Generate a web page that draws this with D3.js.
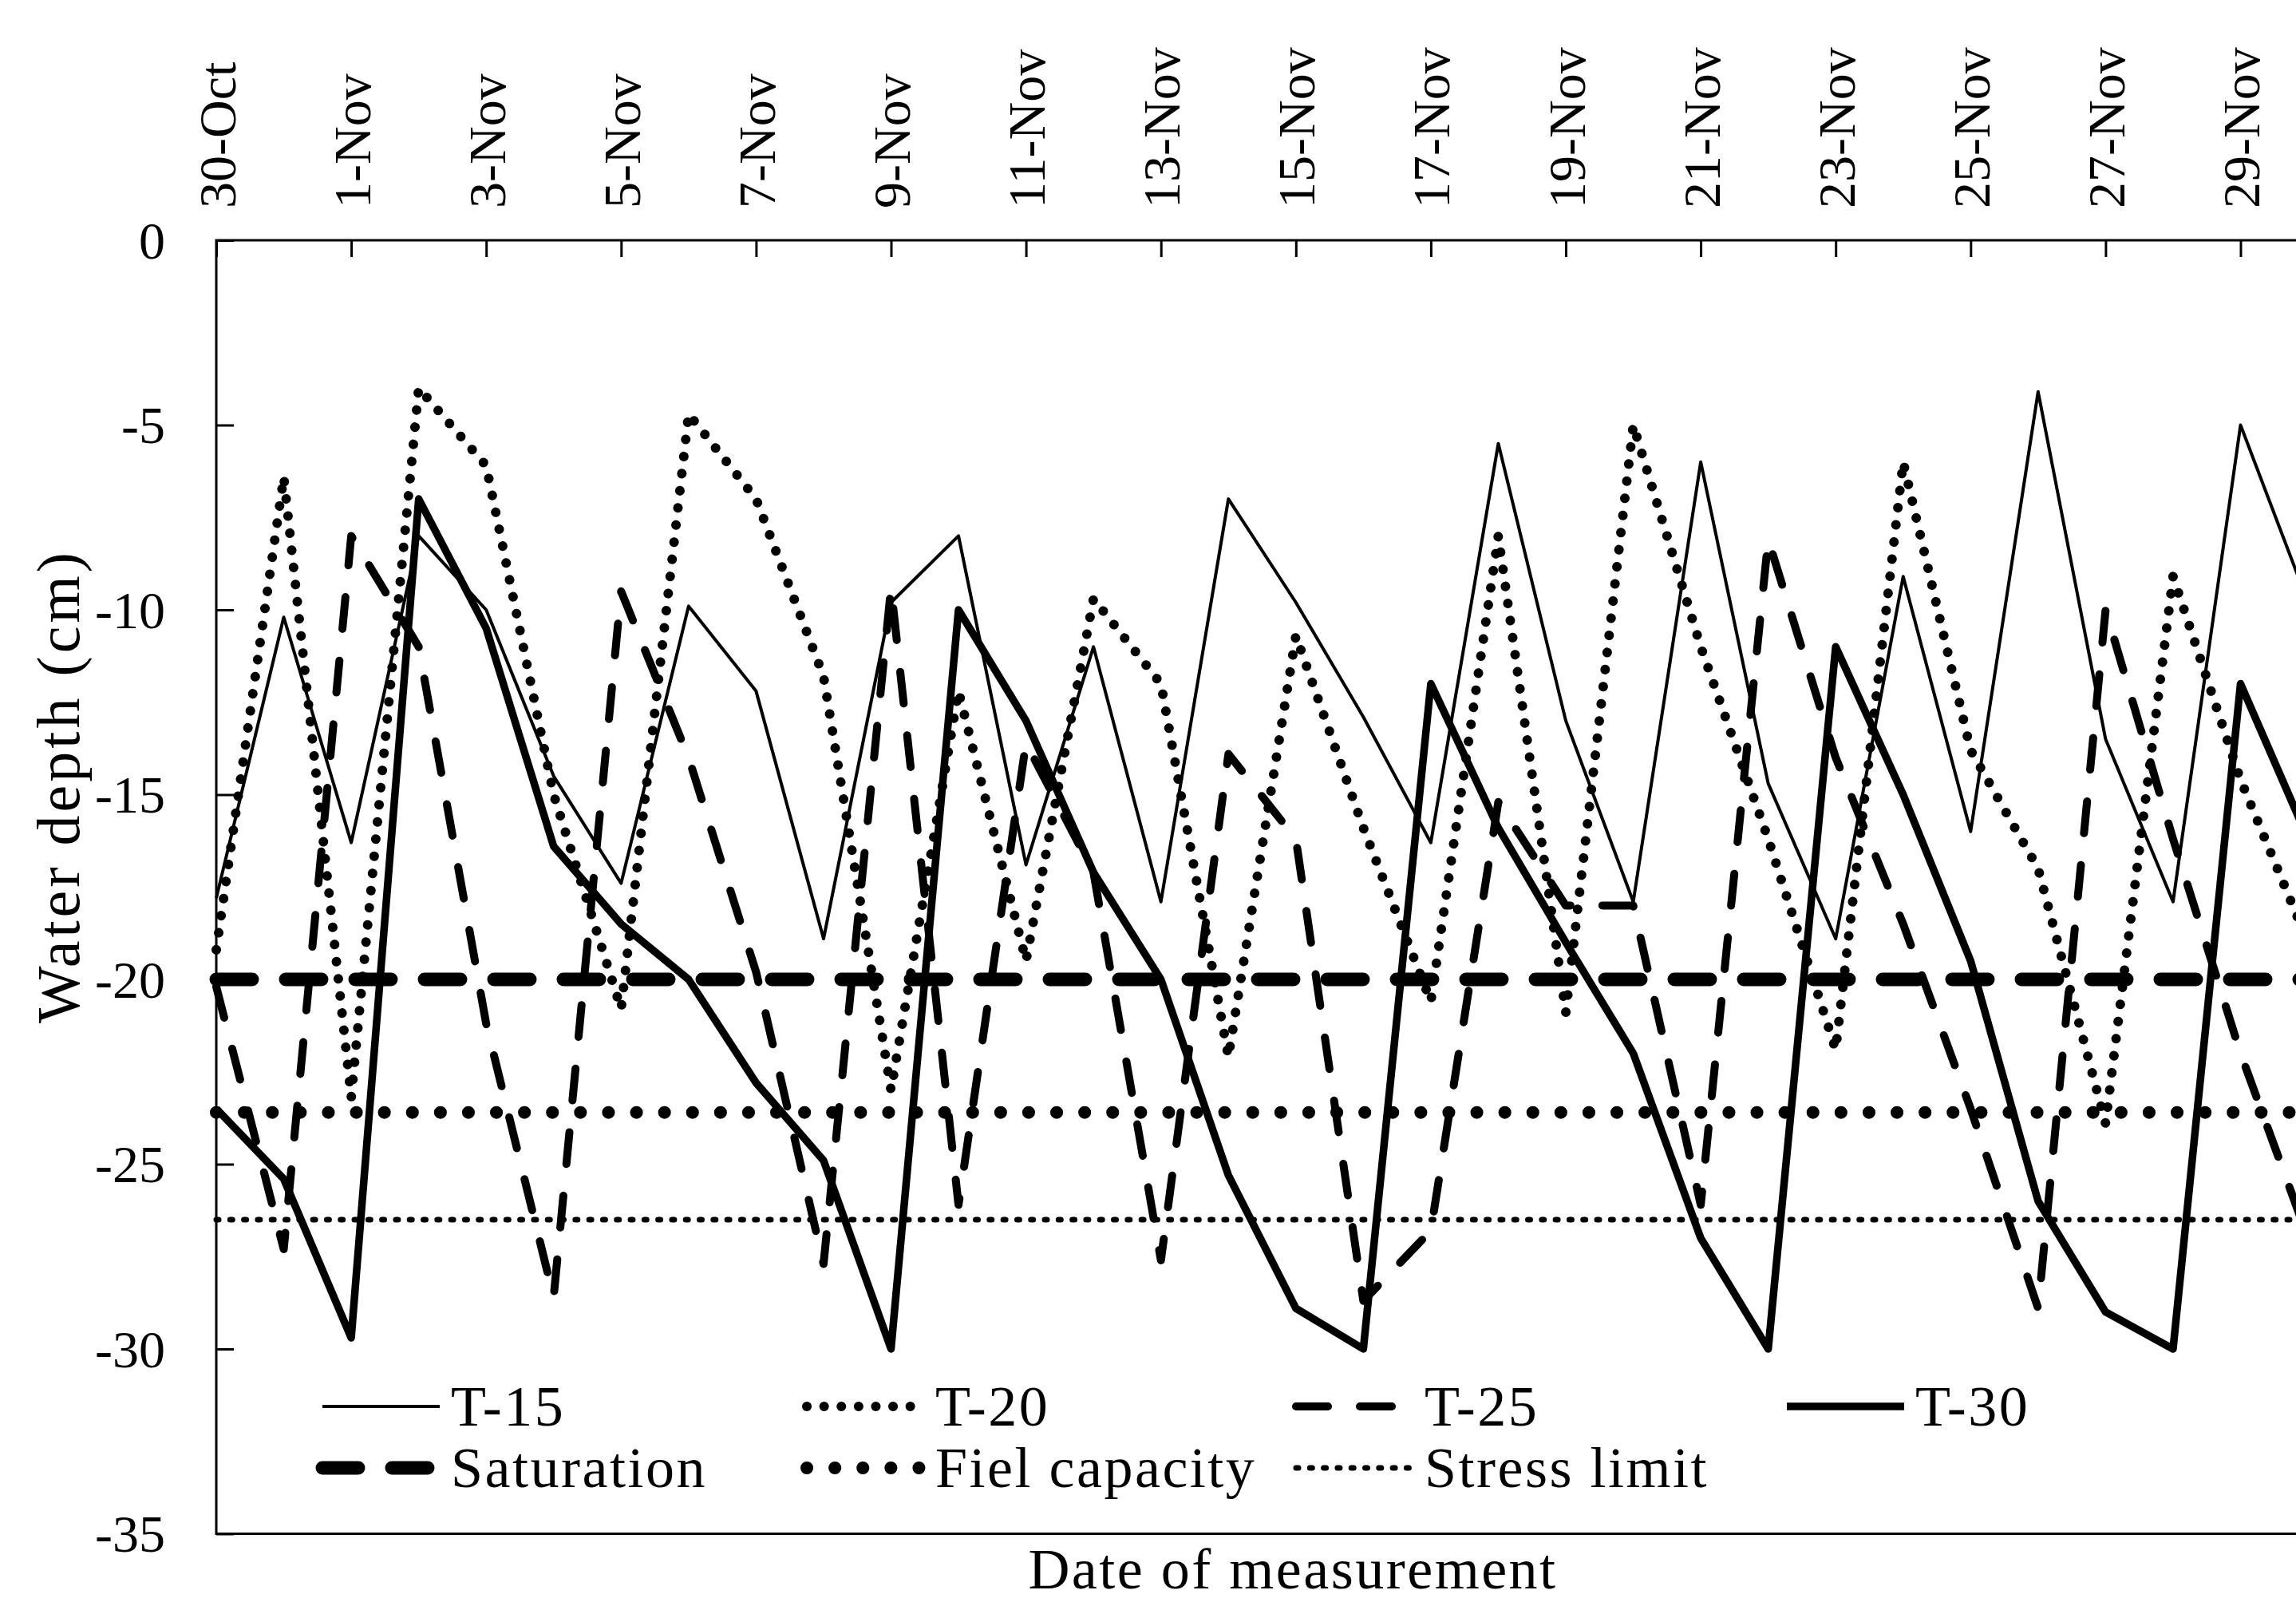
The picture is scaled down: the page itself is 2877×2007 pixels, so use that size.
<!DOCTYPE html>
<html>
<head>
<meta charset="utf-8">
<script src="https://cdn.jsdelivr.net/npm/d3@7"></script>
<style>
  html, body { margin: 0; padding: 0; background: #fff; overflow: hidden; }
  svg { display: block; }
</style>
</head>
<body>
<script>
'use strict';

// 測定日（1日ごと）
const dates = [
    '2019-10-30', '2019-10-31', '2019-11-01', '2019-11-02', '2019-11-03', '2019-11-04',
    '2019-11-05', '2019-11-06', '2019-11-07', '2019-11-08', '2019-11-09', '2019-11-10',
    '2019-11-11', '2019-11-12', '2019-11-13', '2019-11-14', '2019-11-15', '2019-11-16',
    '2019-11-17', '2019-11-18', '2019-11-19', '2019-11-20', '2019-11-21', '2019-11-22',
    '2019-11-23', '2019-11-24', '2019-11-25', '2019-11-26', '2019-11-27', '2019-11-28',
    '2019-11-29', '2019-11-30'
];
// 上軸の目盛り（2日おき）
const tickDates = [
    '2019-10-30', '2019-11-01', '2019-11-03', '2019-11-05', '2019-11-07', '2019-11-09',
    '2019-11-11', '2019-11-13', '2019-11-15', '2019-11-17', '2019-11-19', '2019-11-21',
    '2019-11-23', '2019-11-25', '2019-11-27', '2019-11-29'
];
const yTicks = [0, -5, -10, -15, -20, -25, -30, -35];

// 各処理の水深 (cm)
const t15 = [-17.8, -10.2, -16.3, -8.0, -10.0, -14.5, -17.4, -9.9, -12.2, -18.9, -9.8, -8.0,
    -16.9, -11.0, -17.9, -7.0, -9.8, -12.9, -16.3, -5.5, -13.0, -17.9, -6.0, -14.7,
    -18.9, -9.1, -16.0, -4.1, -13.5, -17.9, -5.0, -9.8];
const t20 = [-19.2, -6.4, -23.2, -4.0, -6.1, -15.0, -20.8, -4.7, -7.0, -11.8, -23.0, -12.2,
    -19.5, -9.7, -12.0, -22.1, -10.7, -15.9, -20.6, -8.0, -20.9, -5.0, -11.0, -16.2,
    -21.9, -6.0, -13.8, -17.0, -23.9, -9.1, -14.6, -19.0];
const t25 = [-20.2, -27.3, -8.0, -11.0, -21.2, -28.6, -9.5, -14.0, -19.8, -27.7, -9.4, -26.1,
    -13.6, -17.1, -27.6, -13.9, -16.2, -28.7, -26.8, -15.2, -18.0, -18.0, -26.1, -8.1,
    -14.0, -18.5, -23.5, -28.9, -10.0, -16.2, -22.0, -27.0];
const t30 = [-23.5, -25.4, -29.7, -7.0, -10.5, -16.4, -18.5, -20.0, -22.8, -24.9, -30.0, -10.0,
    -13.0, -17.1, -20.0, -25.3, -28.9, -30.0, -12.0, -15.9, -19.0, -22.0, -27.0, -30.0,
    -11.0, -15.0, -19.5, -26.0, -29.0, -30.0, -12.0, -16.2];

// 基準線
const saturation = -20;
const fieldCapacity = -23.6;
const stressLimit = -26.5;

const width = 2877;
const height = 2007;
const plotLeft = 271;
const plotTop = 301;
const plotBottom = 1921.5;
const dayWidth = 84.55;
const fontFamily = "'Liberation Serif', 'Times New Roman', serif";

const parseDate = d3.timeParse('%Y-%m-%d');
const dateObjs = dates.map(parseDate);
const startDate = parseDate('2019-10-30');
const endDate = parseDate('2019-12-01');

const x = d3.scaleTime()
    .domain([startDate, endDate])
    .range([plotLeft, plotLeft + dayWidth * 32]);
const y = d3.scaleLinear()
    .domain([-35, 0])
    .range([plotBottom, plotTop]);

const svg = d3.select('body')
    .append('svg')
    .attr('width', width)
    .attr('height', height)
    .attr('viewBox', `0 0 ${width} ${height}`);

// 系列のスタイル
const series = [
    { name: 'T-15', values: t15, width: 4, dash: null },
    { name: 'T-20', values: t20, width: 12, dash: '0.1,21.5' },
    { name: 'T-25', values: t25, width: 10, dash: '40,40' },
    { name: 'T-30', values: t30, width: 9.5, dash: null }
];
const refLines = [
    { name: 'Saturation', value: saturation, width: 17, dash: '45,42' },
    { name: 'Fiel capacity', value: fieldCapacity, width: 16, dash: '0.1,35' },
    { name: 'Stress limit', value: stressLimit, width: 7, dash: '3,14.3' }
];

const applyStyle = (sel, s) => sel
    .attr('fill', 'none')
    .attr('stroke', '#000')
    .attr('stroke-width', s.width)
    .attr('stroke-dasharray', s.dash)
    .attr('stroke-linecap', s.dash ? 'round' : 'butt')
    .attr('stroke-linejoin', 'round');

// プロット領域の枠
svg.append('rect')
    .attr('x', plotLeft)
    .attr('y', plotTop)
    .attr('width', x(endDate) - plotLeft)
    .attr('height', plotBottom - plotTop)
    .attr('fill', 'none')
    .attr('stroke', '#000')
    .attr('stroke-width', 3);

// 上の日付軸
const xAxis = svg.append('g')
    .attr('transform', `translate(0,${plotTop})`)
    .call(d3.axisTop(x)
        .tickValues(tickDates.map(parseDate))
        .tickSize(-21)
        .tickPadding(0)
        .tickFormat(d3.timeFormat('%-d-%b')));
xAxis.select('.domain').remove();
xAxis.selectAll('line').attr('stroke', '#000').attr('stroke-width', 3);
xAxis.selectAll('text')
    .attr('transform', 'rotate(-90)')
    .attr('x', 40)
    .attr('y', 23)
    .attr('dy', null)
    .attr('text-anchor', 'start')
    .attr('fill', '#000')
    .attr('font-family', fontFamily)
    .attr('font-size', 66);

// 左の水深軸
const yAxis = svg.append('g')
    .attr('transform', `translate(${plotLeft},0)`)
    .call(d3.axisLeft(y)
        .tickValues(yTicks)
        .tickSize(-22)
        .tickPadding(64)
        .tickFormat(d3.format('d')));
yAxis.select('.domain').remove();
yAxis.selectAll('line').attr('stroke', '#000').attr('stroke-width', 3);
yAxis.selectAll('text')
    .attr('fill', '#000')
    .attr('dy', '0.34em')
    .attr('font-family', fontFamily)
    .attr('font-size', 66)
    .text(d => d === 0 ? '0' : '-' + Math.abs(d));

// 線を描く
const line = d3.line()
    .x((d, i) => x(dateObjs[i]))
    .y(d => y(d));
const plot = svg.append('g').attr('class', 'plot');
series.forEach(s => {
    plot.append('path')
        .attr('d', line(s.values))
        .call(applyStyle, s);
});
refLines.forEach(r => {
    plot.append('path')
        .attr('d', d3.line()([[x(startDate), y(r.value)], [x(endDate), y(r.value)]]))
        .call(applyStyle, r);
});

// 凡例
const legendItems = [
    { s: series[0], col: 0, row: 0 },
    { s: series[1], col: 1, row: 0 },
    { s: series[2], col: 2, row: 0 },
    { s: series[3], col: 3, row: 0 },
    { s: refLines[0], col: 0, row: 1 },
    { s: refLines[1], col: 1, row: 1 },
    { s: refLines[2], col: 2, row: 1 }
];
const legendX = [404, 1011, 1624, 2239];
const legendY = [1762, 1839];
const legend = svg.append('g').attr('class', 'legend');
legendItems.forEach(item => {
    const lx = legendX[item.col];
    const ly = legendY[item.row];
    legend.append('path')
        .attr('d', `M${lx},${ly}H${lx + 147}`)
        .call(applyStyle, item.s);
    legend.append('text')
        .attr('x', lx + 161)
        .attr('y', ly)
        .attr('dy', '0.34em')
        .attr('font-family', fontFamily)
        .attr('font-size', 72)
        .attr('letter-spacing', 2.5)
        .text(item.s.name);
});

// 軸タイトル
svg.append('text')
    .attr('transform', 'translate(99,985) rotate(-90)')
    .attr('text-anchor', 'middle')
    .attr('font-family', fontFamily)
    .attr('font-size', 76)
    .attr('letter-spacing', 4)
    .text('Water depth  (cm)');
svg.append('text')
    .attr('x', 1620)
    .attr('y', 1990)
    .attr('text-anchor', 'middle')
    .attr('font-family', fontFamily)
    .attr('font-size', 72)
    .attr('letter-spacing', 2.5)
    .text('Date of measurement');
</script>
</body>
</html>
